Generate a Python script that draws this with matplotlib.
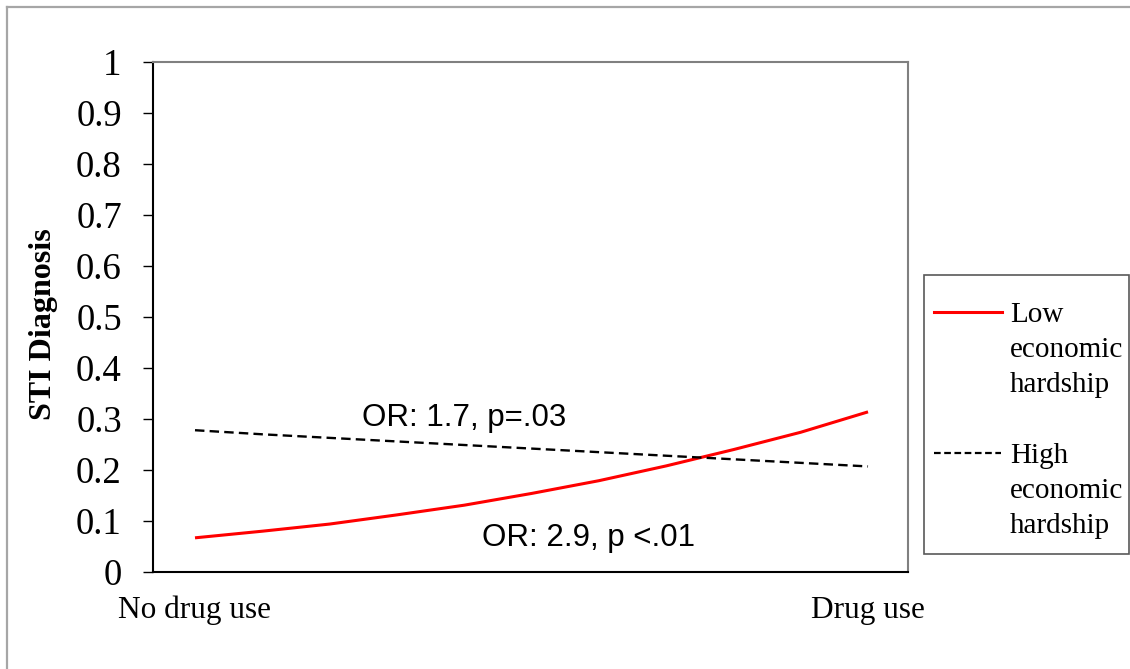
import matplotlib
matplotlib.use("Agg")
import matplotlib.pyplot as plt
from matplotlib.lines import Line2D
from matplotlib.patches import Rectangle

# ---- data ----
x_positions = [0.0, 0.1, 0.2, 0.3, 0.4, 0.5, 0.6, 0.7, 0.8, 0.9, 1.0]
low_hardship = [0.067, 0.080, 0.094, 0.112, 0.131, 0.154, 0.179, 0.208, 0.240, 0.274, 0.314]
high_hardship = [0.278, 0.270, 0.263, 0.256, 0.249, 0.242, 0.235, 0.228, 0.221, 0.214, 0.207]
x_tick_positions = [0, 1]
x_tick_labels = ["No drug use", "Drug use"]
y_ticks = [0, 0.1, 0.2, 0.3, 0.4, 0.5, 0.6, 0.7, 0.8, 0.9, 1]
y_tick_labels = ["0", "0.1", "0.2", "0.3", "0.4", "0.5", "0.6", "0.7", "0.8", "0.9", "1"]
series_labels = ["Low\neconomic\nhardship", "High\neconomic\nhardship"]
ann_high = "OR: 1.7, p=.03"
ann_low = "OR: 2.9, p <.01"
y_label = "STI Diagnosis"

W, H = 1130, 669
fig = plt.figure(figsize=(W / 100, H / 100), dpi=100)
fig.patch.set_facecolor("white")

def fx(px):
    return px / W

def fy(py):
    return 1 - py / H

serif = ["Liberation Serif", "DejaVu Serif"]
sans = ["Liberation Sans", "DejaVu Sans"]

# outer border (top & left)
fig.add_artist(Line2D([fx(7), fx(W)], [fy(7), fy(7)], color="#a6a6a6", lw=1.6,
                      transform=fig.transFigure))
fig.add_artist(Line2D([fx(7), fx(7)], [fy(7), fy(H)], color="#a6a6a6", lw=1.6,
                      transform=fig.transFigure))

ax_l, ax_r, ax_t, ax_b = 153, 908, 62, 572
ax = fig.add_axes([fx(ax_l), fy(ax_b), fx(ax_r) - fx(ax_l), fy(ax_t) - fy(ax_b)])
ax.plot(x_positions, low_hardship, color="#ff0000", lw=2.2, solid_capstyle="butt")
ax.plot(x_positions, high_hardship, color="black", lw=1.7, linestyle=(0, (4.0, 2.2)))

ax.set_xlim(-0.0624, 1.0594)
ax.set_ylim(0, 1)
ax.set_yticks(y_ticks)
ax.set_yticklabels(y_tick_labels, fontfamily=serif, fontsize=26.5)
ax.set_xticks(x_tick_positions)
ax.set_xticklabels(x_tick_labels, fontfamily=serif, fontsize=22.5)
ax.tick_params(axis="y", direction="out", length=7.5, width=1.0, pad=15, colors="black")
ax.tick_params(axis="x", length=0, pad=17)

for side in ["left", "bottom"]:
    ax.spines[side].set_color("black")
    ax.spines[side].set_linewidth(1.5)
for side in ["top", "right"]:
    ax.spines[side].set_color("#808080")
    ax.spines[side].set_linewidth(1.5)

ax.set_ylabel(y_label, fontfamily=serif, fontsize=23, fontweight="bold")
ax.yaxis.set_label_coords((58 - ax_l) / (ax_r - ax_l), 0.487)

ax.text(0.40, 0.302, ann_high, fontfamily=sans, fontsize=22.5, ha="center", va="center")
ax.text(0.585, 0.067, ann_low, fontfamily=sans, fontsize=22.5, ha="center", va="center")

# legend (manual)
fig.add_artist(Rectangle((fx(924), fy(554)), fx(1129) - fx(924), fy(275) - fy(554),
                         fill=False, edgecolor="#595959", lw=1.2, transform=fig.transFigure))
fig.add_artist(Line2D([fx(934), fx(1002)], [fy(312), fy(312)], color="#ff0000", lw=2.2,
                      transform=fig.transFigure))
fig.add_artist(Line2D([fx(934), fx(1001)], [fy(453), fy(453)], color="black", lw=1.6,
                      linestyle=(0, (3.0, 1.6)), transform=fig.transFigure))
for label, base in zip(series_labels, [322, 463]):
    for i, line in enumerate(label.split("\n")):
        fig.text(fx(1010), fy(base + 35 * i), line, fontfamily=serif, fontsize=21,
                 ha="left", va="baseline")

fig.savefig("out.png", dpi=100)
